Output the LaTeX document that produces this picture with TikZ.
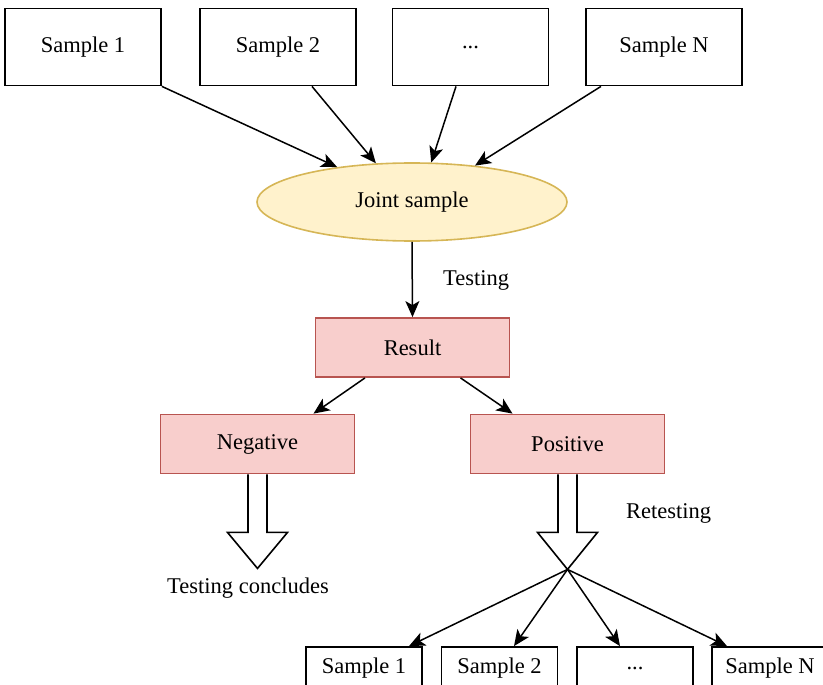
\documentclass[tikz,border=0pt]{standalone}
\usepackage{fontspec}
\setmainfont{Liberation Serif}
\usetikzlibrary{arrows.meta,shapes.geometric}
\definecolor{ellfill}{HTML}{FFF2CC}
\definecolor{elldraw}{HTML}{D6B656}
\definecolor{pinkfill}{HTML}{F8CECC}
\definecolor{pinkdraw}{HTML}{B85450}
\begin{document}
\begin{tikzpicture}[x=1pt,y=-1pt,
  every node/.style={font=\fontsize{22.5}{26}\selectfont},
  plainbox/.style={draw=black,line width=1.8pt,fill=white,rectangle,inner sep=0pt,minimum width=156pt,minimum height=77pt},
  smallbox/.style={draw=black,line width=1.8pt,fill=white,rectangle,inner sep=0pt,minimum width=116pt,minimum height=42pt},
  pinkbox/.style={draw=pinkdraw,line width=1.8pt,fill=pinkfill,rectangle,inner sep=0pt,minimum width=194pt,minimum height=59pt},
  joinell/.style={draw=elldraw,line width=1.6pt,fill=ellfill,ellipse,inner sep=0pt,minimum width=310pt,minimum height=78pt},
  conn/.style={draw=black,line width=1.5pt,-{Stealth[length=16pt,width=14pt,inset=4pt]}},
  blockarrow/.style={draw=black,line width=1.6pt,fill=white,line join=miter},
  lbl/.style={inner sep=0pt}
]
\useasboundingbox (0,0) rectangle (823,685);
% top samples
\node[plainbox] (s1) at (83,47) {Sample 1};
\node[plainbox] (s2) at (278,47) {Sample 2};
\node[plainbox] (s3) at (470.5,47) {...};
\node[plainbox] (sn) at (664,47) {Sample N};
% joint
\node[joinell] (joint) at (412,202) {Joint sample};
% results
\node[pinkbox] (result) at (412.5,347.5) {Result};
\node[pinkbox] (neg) at (257.5,444) {Negative};
\node[pinkbox] (pos) at (567.5,444) {Positive};
% bottom samples
\node[smallbox] (b1) at (364,668) {Sample 1};
\node[smallbox] (b2) at (499.5,668) {Sample 2};
\node[smallbox] (b3) at (635,668) {...};
\node[smallbox] (bn) at (770,668) {Sample N};
% labels
\node[lbl,anchor=west] (ltest) at (443,280) {Testing};
\node[lbl,anchor=west] (lretest) at (626,513) {Retesting};
\node[lbl] (lconc) at (248,588) {Testing concludes};
% arrows into joint
\draw[conn] (s1.south east) -- (joint.155);
\draw[conn] ([xshift=34pt]s2.south) -- (joint.133);
\draw[conn] ([xshift=-14.5pt]s3.south) -- (joint.64);
\draw[conn] ([xshift=-63pt]sn.south) -- (joint.30);
\draw[conn] (joint.south) -- (result.north);
\draw[conn] ([xshift=-47.5pt]result.south) -- ([xshift=56pt]neg.north);
\draw[conn] ([xshift=48pt]result.south) -- ([xshift=-55pt]pos.north);
% block arrows
\draw[blockarrow] ([xshift=-9.5pt]neg.south) -- ++(0,58) -- ++(-20.5,0) -- ++(30,36) coordinate (ntip) -- ++(30,-36) -- ++(-20.5,0) -- ([xshift=9.5pt]neg.south);
\draw[blockarrow] ([xshift=-9.5pt]pos.south) -- ++(0,58) -- ++(-20.5,0) -- ++(30,37) coordinate (ptip) -- ++(30,-37) -- ++(-20.5,0) -- ([xshift=9.5pt]pos.south);
% retesting fan
\draw[conn] (ptip) -- ([xshift=45pt]b1.north);
\draw[conn] (ptip) -- ([xshift=14.5pt]b2.north);
\draw[conn] (ptip) -- ([xshift=-15pt]b3.north);
\draw[conn] (ptip) -- ([xshift=-43pt]bn.north);
\end{tikzpicture}
\end{document}
